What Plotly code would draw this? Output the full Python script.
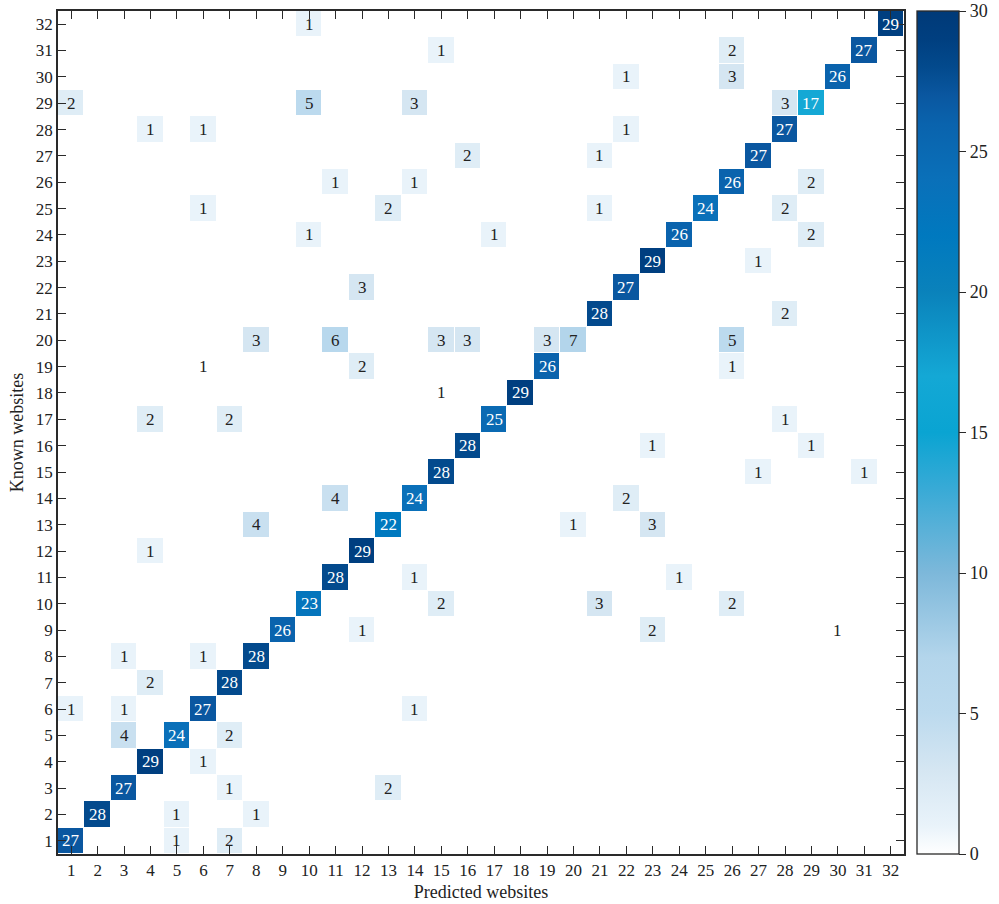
import plotly.graph_objects as go

# Confusion matrix entries: known (row), predicted (column), count
known = [32, 32,
         31, 31, 31,
         30, 30, 30,
         29, 29, 29, 29, 29,
         28, 28, 28, 28,
         27, 27, 27,
         26, 26, 26, 26,
         25, 25, 25, 25, 25,
         24, 24, 24, 24,
         23, 23,
         22, 22,
         21, 21,
         20, 20, 20, 20, 20, 20, 20,
         19, 19, 19,
         18,
         17, 17, 17, 17,
         16, 16, 16,
         15, 15, 15,
         14, 14, 14,
         13, 13, 13, 13,
         12, 12,
         11, 11, 11,
         10, 10, 10, 10,
         9, 9, 9,
         8, 8, 8,
         7, 7,
         6, 6, 6, 6,
         5, 5, 5,
         4, 4,
         3, 3, 3,
         2, 2, 2,
         1, 1, 1]
predicted = [10, 32,
             15, 26, 31,
             22, 26, 30,
             1, 10, 14, 28, 29,
             4, 6, 22, 28,
             16, 21, 27,
             11, 14, 26, 29,
             6, 13, 21, 25, 28,
             10, 17, 24, 29,
             23, 27,
             12, 22,
             21, 28,
             8, 11, 15, 16, 19, 20, 26,
             12, 19, 26,
             18,
             4, 7, 17, 28,
             16, 23, 29,
             15, 27, 31,
             11, 14, 22,
             8, 13, 20, 23,
             4, 12,
             11, 14, 24,
             10, 15, 21, 26,
             9, 12, 23,
             3, 6, 8,
             4, 7,
             1, 3, 6, 14,
             3, 5, 7,
             4, 6,
             3, 7, 13,
             2, 5, 8,
             1, 5, 7]
counts = [1, 29,
          1, 2, 27,
          1, 3, 26,
          2, 5, 3, 3, 17,
          1, 1, 1, 27,
          2, 1, 27,
          1, 1, 26, 2,
          1, 2, 1, 24, 2,
          1, 1, 26, 2,
          29, 1,
          3, 27,
          28, 2,
          3, 6, 3, 3, 3, 7, 5,
          2, 26, 1,
          29,
          2, 2, 25, 1,
          28, 1, 1,
          28, 1, 1,
          4, 24, 2,
          4, 22, 1, 3,
          1, 29,
          28, 1, 1,
          23, 2, 3, 2,
          26, 1, 2,
          1, 1, 28,
          2, 28,
          1, 1, 27, 1,
          4, 24, 2,
          29, 1,
          27, 1, 2,
          28, 1, 1,
          27, 1, 2]

# Labels printed without a shaded cell
label_only_known = [19, 18, 9]
label_only_predicted = [6, 15, 30]
label_only_counts = [1, 1, 1]

n = 32
labels = list(range(1, n + 1))
z = [[0] * n for _ in range(n)]
for r, c, v in zip(known, predicted, counts):
    z[r - 1][c - 1] = v

colorscale = [
    [0.0, "#ffffff"],
    [1 / 30, "#e9f3fa"],
    [3 / 30, "#d5e6f2"],
    [5 / 30, "#bcdaee"],
    [7 / 30, "#b3d5eb"],
    [10 / 30, "#7db8da"],
    [13 / 30, "#38aad6"],
    [15 / 30, "#0aa4d2"],
    [17 / 30, "#14a8d5"],
    [20 / 30, "#0a82bb"],
    [22 / 30, "#0079bf"],
    [24 / 30, "#0a70b9"],
    [26 / 30, "#0a63ad"],
    [27 / 30, "#0a57a0"],
    [28 / 30, "#034a8d"],
    [29 / 30, "#003f80"],
    [1.0, "#003a78"],
]

FONT = "Liberation Serif"

fig = go.Figure(go.Heatmap(
    z=z, x=labels, y=labels,
    zmin=0, zmax=30,
    colorscale=colorscale,
    xgap=1, ygap=1,
    hoverongaps=False,
    colorbar=dict(
        x=1.0142, xanchor="left", xpad=0,
        y=0.5, yanchor="middle", len=1.0, lenmode="fraction", ypad=0,
        thickness=42, thicknessmode="pixels",
        outlinewidth=1.3, outlinecolor="#2a2a2a",
        ticks="outside", ticklen=7, tickwidth=1.2, tickcolor="#2a2a2a",
        tickvals=[0, 5, 10, 15, 20, 25, 30],
        tickfont=dict(family=FONT, size=18, color="#222222"),
    ),
))

annotations = []
for r, c, v in zip(known + label_only_known,
                   predicted + label_only_predicted,
                   counts + label_only_counts):
    annotations.append(dict(
        x=c, y=r, text=str(v), showarrow=False,
        xref="x", yref="y",
        font=dict(family=FONT, size=17,
                  color="#ffffff" if v >= 15 else "#222222"),
    ))

axis_common = dict(
    tickmode="array", tickvals=labels, ticktext=[str(v) for v in labels],
    range=[0.5, 32.5],
    showgrid=False, zeroline=False,
    showline=True, linecolor="#2a2a2a", linewidth=1.5,
    mirror="ticks", ticks="inside", ticklen=8, tickwidth=1.2, tickcolor="#2a2a2a",
    tickfont=dict(family=FONT, size=17, color="#222222"),
    automargin=False,
)

fig.update_layout(
    width=999, height=904,
    margin=dict(l=58, r=94, t=11, b=50),
    paper_bgcolor="white", plot_bgcolor="white",
    xaxis=dict(axis_common, title=dict(text="Predicted websites",
               font=dict(family=FONT, size=18, color="#222222"), standoff=6)),
    yaxis=dict(axis_common, title=dict(text="Known websites",
               font=dict(family=FONT, size=18, color="#222222"), standoff=8)),
    annotations=annotations,
    font=dict(family=FONT),
)

fig.write_html("out.html", config={"displayModeBar": False},
               post_script="document.body.style.margin='0';")
